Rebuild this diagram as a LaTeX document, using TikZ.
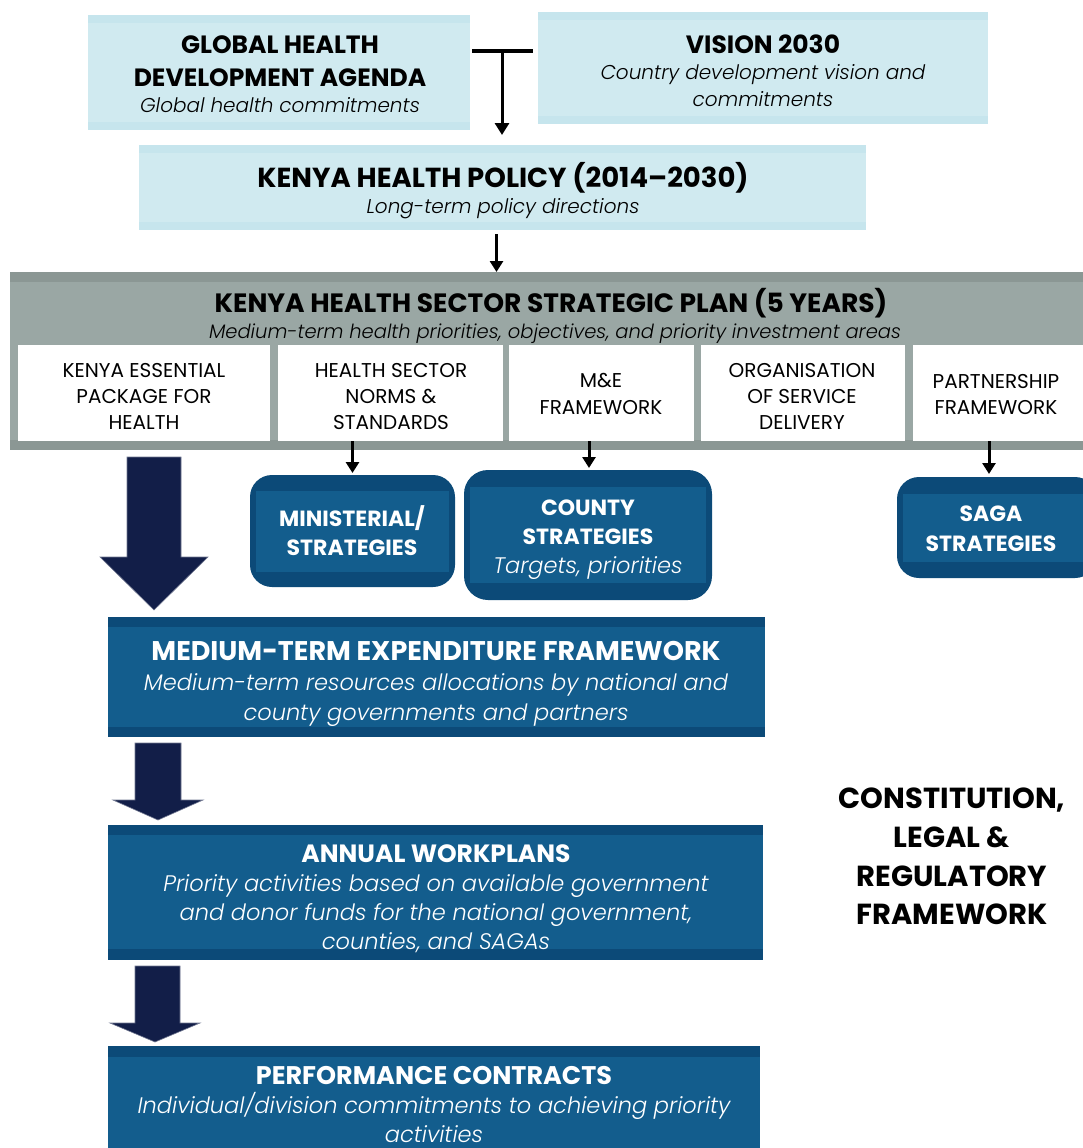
\documentclass[tikz,border=0pt]{standalone}
\usepackage{fontspec}
\setmainfont{Poppins}[ItalicFont={Poppins Light Italic}]
\usetikzlibrary{arrows.meta}
\definecolor{lb}{HTML}{D0EAF0}
\definecolor{lbd}{HTML}{C6E5ED}
\definecolor{gr}{HTML}{9AA7A4}
\definecolor{grd}{HTML}{8B9794}
\definecolor{db}{HTML}{0C4A78}
\definecolor{mb}{HTML}{135D8D}
\definecolor{navy}{HTML}{121E48}
\begin{document}
\begin{tikzpicture}[x=1pt,y=-1pt,
  box/.style={inner sep=0, outer sep=0, anchor=north west},
  lbbox/.style={box, fill=lb},
  wbox/.style={box, fill=white},
  ttl/.style={inner sep=0, anchor=base, font=\bfseries\fontsize{25}{28}\selectfont},
  sub/.style={inner sep=0, anchor=base, font=\itshape\fontsize{20}{22}\selectfont},
  wtx/.style={inner sep=0, anchor=base, font=\fontsize{20}{22}\selectfont},
  dttl/.style={inner sep=0, anchor=base, text=white, font=\bfseries\fontsize{22}{26}\selectfont},
  dsub/.style={inner sep=0, anchor=base, text=white, font=\itshape\fontsize{22.5}{25}\selectfont},
  conn/.style={line width=3pt, -{Triangle[width=13pt,length=11pt]}},
  bigarrow/.style={fill=navy, draw=navy!60!white, line width=0.6pt}
]
\useasboundingbox (0,0) rectangle (1082,1148);
\fill[white] (0,0) rectangle (1082,1148);

% ---------- top light-blue boxes ----------
\node[lbbox, minimum width=382pt, minimum height=115pt] (glob) at (88,15) {};
\fill[lbd] (glob.north west) rectangle ([yshift=-8pt]glob.north east);
\fill[lbd] (glob.south west) rectangle ([yshift=8pt]glob.south east);
\node[ttl] at (280,54) {GLOBAL HEALTH};
\node[ttl] at (280,86) {DEVELOPMENT AGENDA};
\node[sub] at (280,112) {Global health commitments};

\node[lbbox, minimum width=450pt, minimum height=112pt] (vis) at (538,12) {};
\fill[lbd] (vis.north west) rectangle ([yshift=-8pt]vis.north east);
\fill[lbd] (vis.south west) rectangle ([yshift=8pt]vis.south east);
\node[ttl] at (763,53) {VISION 2030};
\node[sub] at (763,80) {Country development vision and};
\node[sub] at (763,106) {commitments};

\node[lbbox, minimum width=727pt, minimum height=85pt] (pol) at (139,145) {};
\fill[lbd] (pol.north west) rectangle ([yshift=-8pt]pol.north east);
\fill[lbd] (pol.south west) rectangle ([yshift=8pt]pol.south east);
\node[ttl, font=\bfseries\fontsize{27.5}{30}\selectfont] at (503,187) {KENYA HEALTH POLICY (2014\textendash2030)};
\node[sub] at (503,213) {Long-term policy directions};

% T connector
\coordinate (tl) at (472,51);
\coordinate (tr) at (533,51);
\coordinate (tj) at (502,51);
\draw[line width=4pt] (tl) -- (tr);
\draw[line width=3pt, -{Triangle[width=14pt,length=12pt]}] (tj) -- ([yshift=10pt]tj |- pol.north);

% ---------- strategic plan band ----------
\node[box, fill=gr, minimum width=1080pt, minimum height=178pt] (kh) at (10,272) {};
\fill[grd] (kh.north west) rectangle ([yshift=-10pt]kh.north east);
\fill[grd] (kh.south west) rectangle ([yshift=10pt]kh.south east);
\node[ttl, font=\bfseries\fontsize{26.5}{30}\selectfont] at (551,312) {KENYA HEALTH SECTOR STRATEGIC PLAN (5 YEARS)};
\node[sub, font=\itshape\fontsize{19.5}{22}\selectfont] at (555,338) {Medium-term health priorities, objectives, and priority investment areas};

\draw[conn] ([xshift=-6pt,yshift=-4pt]pol.south) -- ([xshift=-6pt]pol.south |- kh.north) ;

\node[wbox, minimum width=252pt, minimum height=96pt] (w1) at (18,345) {};
\node[wbox, minimum width=225pt, minimum height=96pt] (w2) at (278,345) {};
\node[wbox, minimum width=185pt, minimum height=96pt] (w3) at (509,345) {};
\node[wbox, minimum width=204pt, minimum height=96pt] (w4) at (701,345) {};
\node[wbox, minimum width=175pt, minimum height=96pt] (w5) at (913,345) {};

\node[wtx] at (144,377) {KENYA ESSENTIAL};
\node[wtx] at (144,403) {PACKAGE FOR};
\node[wtx] at (144,429) {HEALTH};
\node[wtx] at (391,377) {HEALTH SECTOR};
\node[wtx] at (391,403) {NORMS \&};
\node[wtx] at (391,429) {STANDARDS};
\node[wtx] at (601,387) {M\&E};
\node[wtx] at (601,414) {FRAMEWORK};
\node[wtx] at (802,377) {ORGANISATION};
\node[wtx] at (802,403) {OF SERVICE};
\node[wtx] at (802,429) {DELIVERY};
\node[wtx] at (996,388) {PARTNERSHIP};
\node[wtx] at (996,414) {FRAMEWORK};

% ---------- rounded strategy boxes ----------
\node[box, fill=db, rounded corners=22pt, minimum width=205pt, minimum height=112pt] (min) at (250,475) {};
\fill[mb] ([xshift=6pt,yshift=-16pt]min.north west) rectangle ([xshift=-6pt,yshift=15pt]min.south east);
\node[dttl] at (352,526) {MINISTERIAL/};
\node[dttl] at (352,555) {STRATEGIES};

\node[box, fill=db, rounded corners=24pt, minimum width=248pt, minimum height=130pt] (cty) at (464,470) {};
\fill[mb] ([xshift=6pt,yshift=-17pt]cty.north west) rectangle ([xshift=-6pt,yshift=17pt]cty.south east);
\node[dttl] at (588,515) {COUNTY};
\node[dttl] at (588,544) {STRATEGIES};
\node[dsub] at (588,573) {Targets, priorities};

\node[box, fill=db, rounded corners=22pt, minimum width=200pt, minimum height=101pt] (saga) at (897,477) {};
\fill[mb] ([xshift=6pt,yshift=-17pt]saga.north west) rectangle ([xshift=-6pt,yshift=16pt]saga.south east);
\node[dttl] at (991,521) {SAGA};
\node[dttl] at (991,551) {STRATEGIES};

\draw[conn] (min.north |- w2.south) -- ([yshift=2pt]min.north);
\draw[conn] ([xshift=1pt]cty.north |- w3.south) -- ([xshift=1pt,yshift=2pt]cty.north);
\coordinate (sagatop) at (989,477);
\draw[conn] (sagatop |- w5.south) -- ([yshift=3pt]sagatop);

% ---------- lower dark-blue boxes ----------
\node[box, fill=db, minimum width=657pt, minimum height=120pt] (mtef) at (108,617) {};
\fill[mb] ([yshift=-10pt]mtef.north west) rectangle ([yshift=10pt]mtef.south east);
\node[dttl, font=\bfseries\fontsize{27}{30}\selectfont] at (436,660) {MEDIUM-TERM EXPENDITURE FRAMEWORK};
\node[dsub] at (436,690) {Medium-term resources allocations by national and};
\node[dsub] at (436,720) {county governments and partners};

\node[box, fill=db, minimum width=655pt, minimum height=135pt] (aw) at (108,825) {};
\fill[mb] ([yshift=-10pt]aw.north west) rectangle ([yshift=11pt]aw.south east);
\node[dttl, font=\bfseries\fontsize{25}{28}\selectfont] at (436,862) {ANNUAL WORKPLANS};
\node[dsub] at (436,891) {Priority activities based on available government};
\node[dsub] at (436,920) {and donor funds for the national government,};
\node[dsub] at (436,949) {counties, and SAGAs};

\node[box, fill=db, minimum width=652pt, minimum height=110pt] (pc) at (108,1046) {};
\fill[mb] ([yshift=-11pt]pc.north west) rectangle ([yshift=6pt]pc.south east);
\node[dttl, font=\bfseries\fontsize{25.5}{28}\selectfont] at (434,1084) {PERFORMANCE CONTRACTS};
\node[dsub] at (434,1113) {Individual/division commitments to achieving priority};
\node[dsub] at (434,1142) {activities};

% ---------- big arrows ----------
\fill[bigarrow] (127,457) -- (181,457) -- (181,557) -- (208,557) -- (154,610) -- (100,557) -- (127,557) -- cycle;
\fill[bigarrow] (135,743) -- (181,743) -- (181,800) -- (203,800) -- (158,820) -- (113,800) -- (135,800) -- cycle;
\fill[bigarrow] (135,966) -- (180,966) -- (180,1023) -- (200,1023) -- (155,1042) -- (110,1023) -- (135,1023) -- cycle;

% ---------- constitution label ----------
\node[ttl, font=\bfseries\fontsize{29}{32}\selectfont] at (952,808) {CONSTITUTION,};
\node[ttl, font=\bfseries\fontsize{29}{32}\selectfont] at (952,847) {LEGAL \&};
\node[ttl, font=\bfseries\fontsize{29}{32}\selectfont] at (952,886) {REGULATORY};
\node[ttl, font=\bfseries\fontsize{29}{32}\selectfont] at (952,924) {FRAMEWORK};
\end{tikzpicture}
\end{document}
